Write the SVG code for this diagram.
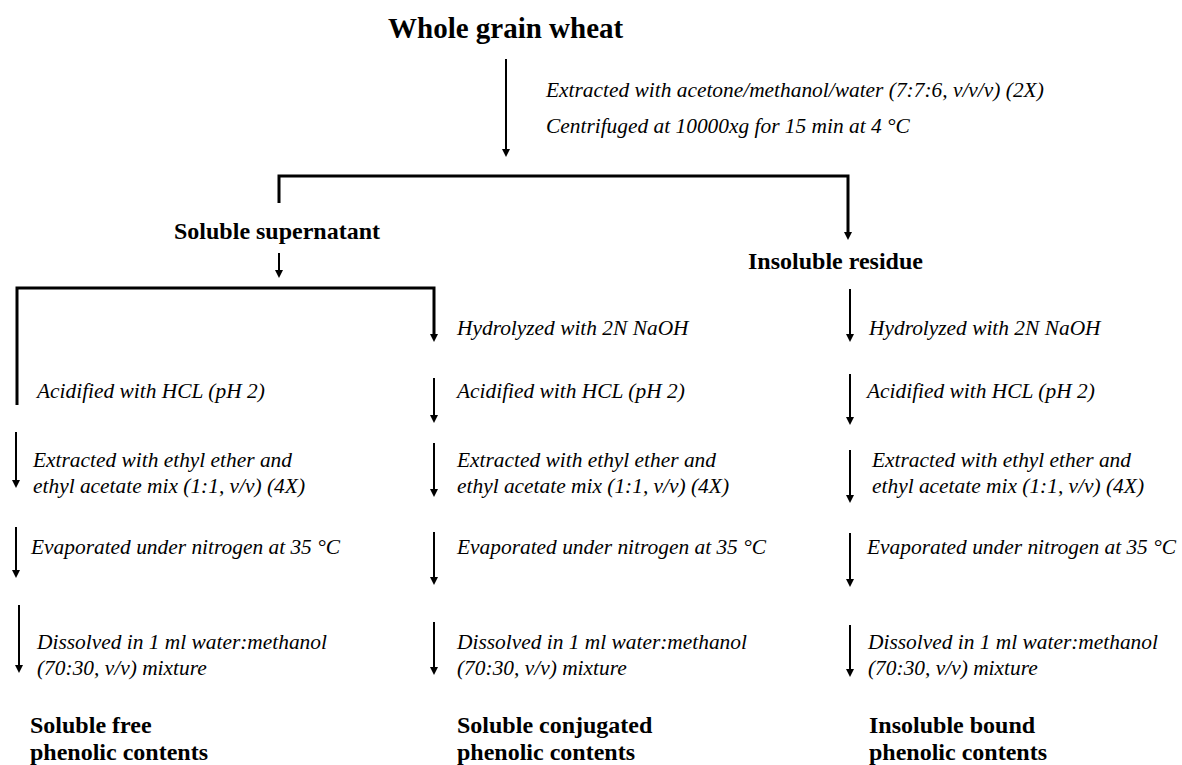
<svg xmlns="http://www.w3.org/2000/svg" width="1182" height="765" viewBox="0 0 1182 765">
<style>
.b{font-family:"Liberation Serif","Times New Roman",serif;font-weight:bold;font-size:24px;fill:#000}
.t{font-size:29px}
.i{font-family:"Liberation Serif","Times New Roman",serif;font-style:italic;font-size:21.4px;fill:#000}
.a{fill:none;stroke:#000;stroke-width:2;marker-end:url(#ah)}
.br{fill:none;stroke:#000;stroke-width:3;marker-end:url(#ah)}
</style>
<defs>
<marker id="ah" markerUnits="userSpaceOnUse" markerWidth="9" markerHeight="9" refX="1" refY="4" orient="auto" viewBox="0 0 9 8">
<path d="M0,0 L8,4 L0,8 z" fill="#000"/>
</marker>
</defs>
<rect width="1182" height="765" fill="#fff"/>
<g id="connectors">
<path class="a" d="M506,59 V150"/>
<path class="br" d="M279,203 V176 H848 V233"/>
<path class="a" d="M279,253 V271"/>
<path class="br" d="M17,405 V288 H434 V335"/>
<path class="a" d="M16,432 V481"/>
<path class="a" d="M16,527 V571"/>
<path class="a" d="M19,605 V666"/>
<path class="a" d="M434,378 V416"/>
<path class="a" d="M434,443 V490"/>
<path class="a" d="M434,532 V578"/>
<path class="a" d="M434,622 V668"/>
<path class="a" d="M850,289 V335"/>
<path class="a" d="M850,374 V418"/>
<path class="a" d="M850,450 V496"/>
<path class="a" d="M850,533 V580"/>
<path class="a" d="M850,625 V670"/>
</g>
<g id="whole-grain-wheat"><text class="b t" x="388" y="38">Whole grain wheat</text></g>
<g id="step-extract"><text class="i" x="546" y="97">Extracted with acetone/methanol/water (7:7:6, v/v/v) (2X)</text><text class="i" x="546" y="133">Centrifuged at 10000xg for 15 min at 4 °C</text></g>
<g id="soluble-supernatant"><text class="b" x="174" y="239">Soluble supernatant</text></g>
<g id="insoluble-residue"><text class="b" x="748" y="269">Insoluble residue</text></g>
<g id="col1-steps">
<text class="i" x="37" y="398">Acidified with HCL (pH 2)</text>
<text class="i" x="33" y="467">Extracted with ethyl ether and</text>
<text class="i" x="33" y="493">ethyl acetate mix (1:1, v/v) (4X)</text>
<text class="i" x="31" y="554">Evaporated under nitrogen at 35 °C</text>
<text class="i" x="37" y="649">Dissolved in 1 ml water:methanol</text>
<text class="i" x="37" y="675">(70:30, v/v) mixture</text>
</g>
<g id="col2-steps">
<text class="i" x="457" y="335">Hydrolyzed with 2N NaOH</text>
<text class="i" x="457" y="398">Acidified with HCL (pH 2)</text>
<text class="i" x="457" y="467">Extracted with ethyl ether and</text>
<text class="i" x="457" y="493">ethyl acetate mix (1:1, v/v) (4X)</text>
<text class="i" x="457" y="554">Evaporated under nitrogen at 35 °C</text>
<text class="i" x="457" y="649">Dissolved in 1 ml water:methanol</text>
<text class="i" x="457" y="675">(70:30, v/v) mixture</text>
</g>
<g id="col3-steps">
<text class="i" x="869" y="335">Hydrolyzed with 2N NaOH</text>
<text class="i" x="867" y="398">Acidified with HCL (pH 2)</text>
<text class="i" x="872" y="467">Extracted with ethyl ether and</text>
<text class="i" x="872" y="493">ethyl acetate mix (1:1, v/v) (4X)</text>
<text class="i" x="867" y="554">Evaporated under nitrogen at 35 °C</text>
<text class="i" x="868" y="649">Dissolved in 1 ml water:methanol</text>
<text class="i" x="868" y="675">(70:30, v/v) mixture</text>
</g>
<g id="soluble-free"><text class="b" x="30" y="733">Soluble free</text><text class="b" x="30" y="760">phenolic contents</text></g>
<g id="soluble-conjugated"><text class="b" x="457" y="733">Soluble conjugated</text><text class="b" x="457" y="760">phenolic contents</text></g>
<g id="insoluble-bound"><text class="b" x="869" y="733">Insoluble bound</text><text class="b" x="869" y="760">phenolic contents</text></g>
</svg>
